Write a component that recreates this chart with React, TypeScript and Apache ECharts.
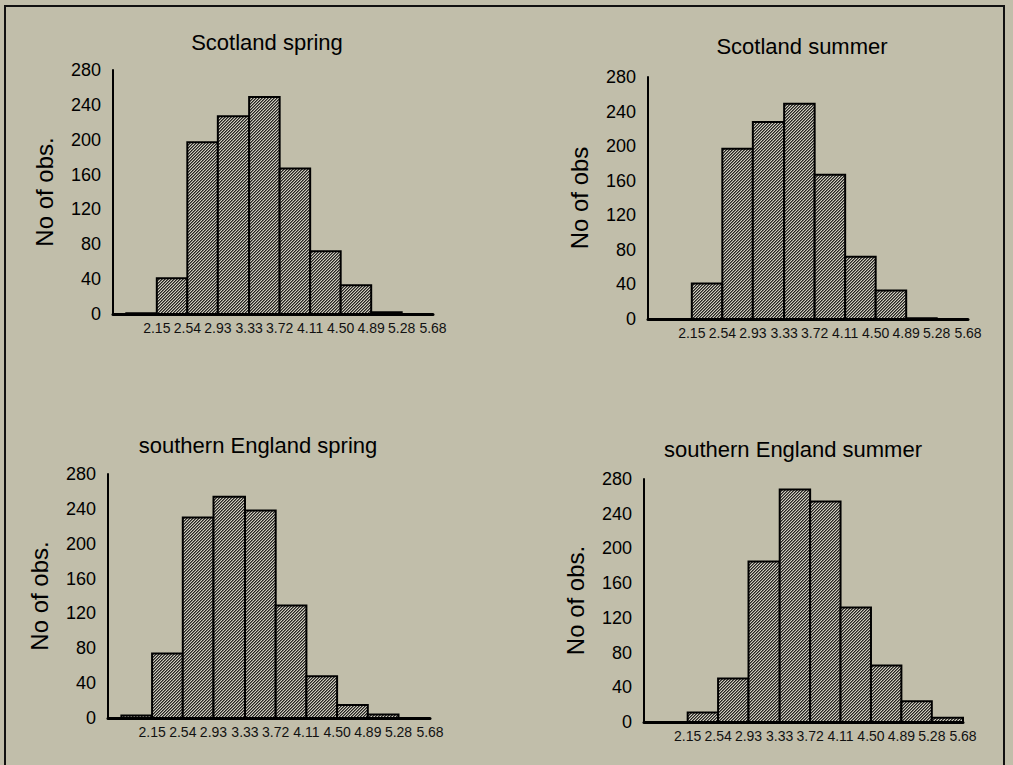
import React, { useEffect, useRef } from "react";
import * as echarts from "echarts";

const edges = [1.76, 2.15, 2.54, 2.93, 3.33, 3.72, 4.11, 4.5, 4.89, 5.28, 5.68];
const labelEdges = [2.15, 2.54, 2.93, 3.33, 3.72, 4.11, 4.5, 4.89, 5.28, 5.68];
const yTicks = [0, 40, 80, 120, 160, 200, 240, 280];

const titles = [
  "Scotland spring",
  "Scotland summer",
  "southern England spring",
  "southern England summer",
];
const yNames = ["No of obs.", "No of obs", "No of obs.", "No of obs."];

const scotlandSpring = [1, 41, 197, 227, 249, 167, 72, 33, 2, 0];
const scotlandSummer = [0, 41, 197, 228, 249, 167, 72, 33, 1, 0];
const englandSpring = [3, 74, 230, 254, 238, 129, 48, 15, 4, 0];
const englandSummer = [0, 11, 50, 185, 268, 254, 132, 65, 24, 5];

const panelData = [scotlandSpring, scotlandSummer, englandSpring, englandSummer];

// layout (pixels)
const grids = [
  { left: 113, top: 70, width: 320, height: 244 },
  { left: 648, top: 77, width: 320, height: 242 },
  { left: 108, top: 474, width: 322, height: 244 },
  { left: 644, top: 479, width: 319, height: 243 },
];
const titlePos = [
  [267, 42],
  [802, 46],
  [258, 445],
  [793, 449],
];

function makePattern(): HTMLCanvasElement {
  const c = document.createElement("canvas");
  c.width = 3;
  c.height = 3;
  const ctx = c.getContext("2d")!;
  ctx.fillStyle = "#cfcdbf";
  ctx.fillRect(0, 0, 3, 3);
  for (let r = 0; r < 3; r++) {
    ctx.fillStyle = "#262523";
    ctx.fillRect(2 - r, r, 1, 1);
    ctx.fillStyle = "#6e6c65";
    ctx.fillRect((3 - r) % 3, r, 1, 1);
  }
  return c;
}

export default function App() {
  const ref = useRef<HTMLDivElement>(null);
  useEffect(() => {
    if (!ref.current) return;
    const chart = echarts.init(ref.current, undefined, { renderer: "svg" });
    const pattern = makePattern();
    const font = "Liberation Sans, Arial, Helvetica, sans-serif";

    const option: any = {
      animation: false,
      backgroundColor: "#c1beaa",
      textStyle: { fontFamily: font },
      grid: grids.map((g) => ({ ...g })),
      xAxis: grids.map((_, i) => ({
        type: "value",
        gridIndex: i,
        min: 1.59,
        max: 5.68,
        axisLine: { show: true, onZero: false, lineStyle: { color: "#000", width: 3 } },
        axisTick: { show: false },
        splitLine: { show: false },
        axisLabel: {
          customValues: labelEdges,
          formatter: (v: number) => v.toFixed(2),
          fontSize: 14,
          color: "#111",
          margin: 7,
          fontFamily: font,
        },
      })),
      yAxis: grids.map((_, i) => ({
        type: "value",
        gridIndex: i,
        min: 0,
        max: 280,
        interval: 40,
        axisLine: { show: true, lineStyle: { color: "#000", width: 2 } },
        axisTick: { show: false },
        splitLine: { show: false },
        axisLabel: {
          customValues: yTicks,
          fontSize: 18,
          color: "#000",
          margin: 12,
          fontFamily: font,
        },
        name: yNames[i],
        nameLocation: "middle",
        nameGap: 57,
        nameTextStyle: { fontSize: 24, color: "#000", fontFamily: font },
      })),
      series: panelData.map((vals, i) => ({
        type: "custom",
        xAxisIndex: i,
        yAxisIndex: i,
        encode: { x: [0, 1], y: 2 },
        data: vals.map((v, k) => [edges[k], edges[k + 1], v]),
        renderItem: (params: any, api: any) => {
          const v = api.value(2);
          if (!v) return null;
          const p0 = api.coord([api.value(0), v]);
          const p1 = api.coord([api.value(1), 0]);
          return {
            type: "rect",
            shape: { x: p0[0], y: p0[1], width: p1[0] - p0[0], height: p1[1] - p0[1] },
            style: {
              fill: { image: pattern, repeat: "repeat" },
              stroke: "#000",
              lineWidth: 2,
            },
          };
        },
      })),
      graphic: [
        {
          type: "rect",
          shape: { x: 5, y: 6, width: 999, height: 800 },
          style: { fill: "none", stroke: "#111", lineWidth: 2 },
          silent: true,
        },
        ...titles.map((t, i) => ({
          type: "text",
          x: titlePos[i][0],
          y: titlePos[i][1],
          style: {
            text: t,
            align: "center",
            verticalAlign: "middle",
            font: `22px ${font}`,
            fill: "#000",
          },
        })),
      ],
    };
    chart.setOption(option);
    return () => chart.dispose();
  }, []);
  return (
    <div
      ref={ref}
      style={{ position: "fixed", left: 0, top: 0, width: 1013, height: 765 }}
    />
  );
}
